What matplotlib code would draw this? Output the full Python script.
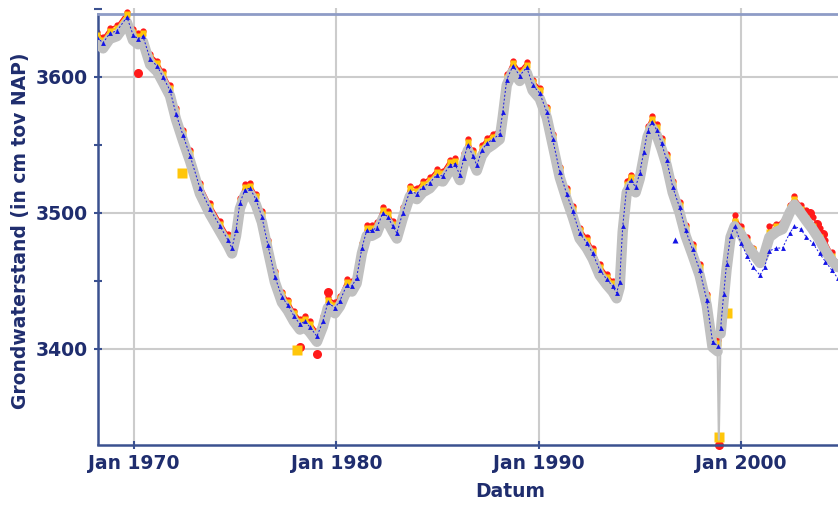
import matplotlib
matplotlib.use("Agg")
import matplotlib.pyplot as plt
import numpy as np

plt.rcParams["font.weight"] = "bold"

# decimal years of the readings (1998.9 = the single low reading)
dates = [1968.17, 1968.47, 1968.8, 1969.16, 1969.65, 1969.95, 1970.2, 1970.44, 1970.8, 1971.14,
         1971.43, 1971.78, 1972.07, 1972.42, 1972.77, 1973.26, 1973.75, 1974.25, 1974.64, 1974.84,
         1975.04, 1975.23, 1975.48, 1975.73, 1976.02, 1976.32, 1976.62, 1976.96, 1977.31, 1977.6,
         1977.9, 1978.2, 1978.44, 1978.69, 1979.04, 1979.33, 1979.58, 1979.93, 1980.17, 1980.52,
         1980.77, 1981.0, 1981.26, 1981.5, 1981.75, 1982.0, 1982.3, 1982.54, 1982.79, 1982.99,
         1983.28, 1983.63, 1983.98, 1984.27, 1984.62, 1984.96, 1985.26, 1985.6, 1985.85, 1986.1,
         1986.3, 1986.5, 1986.74, 1986.94, 1987.19, 1987.43, 1987.73, 1988.07, 1988.22, 1988.42,
         1988.72, 1989.06, 1989.41, 1989.7, 1990.05, 1990.4, 1990.69, 1991.04, 1991.38, 1991.68,
         1992.02, 1992.37, 1992.67, 1993.01, 1993.36, 1993.65, 1993.85, 1994.0, 1994.15, 1994.35,
         1994.54, 1994.79, 1994.99, 1995.19, 1995.38, 1995.58, 1995.83, 1996.07, 1996.32, 1996.62,
         1996.96, 1997.26, 1997.6, 1997.95, 1998.3, 1998.59, 1998.84, 1998.9, 1998.99, 1999.14,
         1999.28, 1999.48, 1999.68, 2000.0, 2000.3, 2000.59, 2000.94, 2001.16, 2001.4, 2001.75,
         2002.05, 2002.4, 2002.64, 2002.94, 2003.23, 2003.53, 2003.88, 2004.17, 2004.47, 2004.77]

gray = [3625, 3621, 3628, 3630, 3640, 3627, 3624, 3626, 3609, 3604,
        3596, 3586, 3569, 3553, 3538, 3514, 3499, 3486, 3476, 3470,
        3483, 3503, 3513, 3514, 3506, 3493, 3472, 3449, 3434, 3428,
        3420, 3414, 3416, 3412, 3405, 3416, 3430, 3426, 3431, 3443,
        3442, 3448, 3470, 3483, 3483, 3485, 3496, 3493, 3486, 3481,
        3496, 3512, 3510, 3515, 3518, 3524, 3523, 3531, 3532, 3524,
        3536, 3546, 3538, 3531, 3542, 3547, 3550, 3554, 3570, 3594,
        3604, 3597, 3603, 3590, 3584, 3570, 3550, 3526, 3510, 3497,
        3481, 3474, 3466, 3454, 3447, 3442, 3437, 3445, 3486, 3515,
        3520, 3515, 3525, 3541, 3556, 3563, 3557, 3547, 3535, 3515,
        3500, 3483, 3469, 3454, 3432, 3401, 3398, 3333, 3411, 3436,
        3458, 3482, 3490, 3484, 3476, 3470, 3463, 3470, 3482, 3486,
        3488, 3500, 3506, 3500, 3494, 3488, 3480, 3472, 3465, 3460]

blue = [3629, 3625, 3632, 3634, 3644, 3631, 3628, 3630, 3613, 3608,
        3600, 3590, 3573, 3557, 3542, 3518, 3503, 3490, 3480, 3474,
        3487, 3507, 3517, 3518, 3510, 3497, 3476, 3453, 3438, 3432,
        3424, 3418, 3420, 3416, 3409, 3420, 3434, 3430, 3435, 3447,
        3446, 3452, 3474, 3487, 3487, 3489, 3500, 3497, 3490, 3485,
        3500, 3516, 3514, 3519, 3522, 3528, 3527, 3535, 3536, 3528,
        3540, 3550, 3542, 3535, 3546, 3551, 3554, 3558, 3574, 3598,
        3608, 3601, 3607, 3594, 3588, 3574, 3554, 3530, 3514, 3501,
        3485, 3478, 3470, 3458, 3451, 3446, 3441, 3449, 3490, 3519,
        3524, 3519, 3529, 3545, 3560, 3567, 3561, 3551, 3539, 3519,
        3504, 3487, 3473, 3458, 3436, 3405, 3402, np.nan, 3415, 3440,
        3462, 3483, 3490, 3478, 3468, 3460, 3454, 3460, 3472, 3474,
        3474, 3485, 3490, 3488, 3482, 3478, 3470, 3464, 3458, 3452]

yellow = [3631, 3627, 3634, 3636, 3646, 3633, 3630, 3632, 3615, 3610,
          3602, 3592, 3575, 3559, 3544, 3520, 3505, 3492, 3482, 3476,
          3489, 3509, 3519, 3520, 3512, 3499, 3478, 3455, 3440, 3434,
          3426, 3420, 3422, 3418, 3411, 3422, 3436, 3432, 3437, 3449,
          3448, 3454, 3476, 3489, 3489, 3491, 3502, 3499, 3492, 3487,
          3502, 3518, 3516, 3521, 3524, 3530, 3529, 3537, 3538, 3530,
          3542, 3552, 3544, 3537, 3548, 3553, 3556, 3560, 3576, 3600,
          3610, 3603, 3609, 3596, 3590, 3576, 3556, 3532, 3516, 3503,
          3487, 3480, 3472, 3460, 3453, 3448, 3443, 3451, 3492, 3521,
          3526, 3521, 3531, 3547, 3562, 3569, 3563, 3553, 3541, 3521,
          3506, 3489, 3475, 3460, 3438, 3407, 3404, np.nan, 3417, 3442,
          3464, 3485, 3494, 3487, 3479, 3473, 3466, 3473, 3486, 3490,
          3491, 3504, 3510, 3503, 3496, 3490, 3482, 3474, 3468, 3462]

red = [3633, 3629, 3636, 3638, 3648, 3635, 3632, 3634, 3617, 3612,
       3604, 3594, 3577, 3561, 3546, 3522, 3507, 3494, 3484, 3478,
       3491, 3511, 3521, 3522, 3514, 3501, 3480, 3457, 3442, 3436,
       3428, 3422, 3424, 3420, 3413, 3424, 3438, 3434, 3439, 3451,
       3450, 3456, 3478, 3491, 3491, 3493, 3504, 3501, 3494, 3489,
       3504, 3520, 3518, 3523, 3526, 3532, 3531, 3539, 3540, 3532,
       3544, 3554, 3546, 3539, 3550, 3555, 3558, 3562, 3578, 3602,
       3612, 3605, 3611, 3598, 3592, 3578, 3558, 3534, 3518, 3505,
       3489, 3482, 3474, 3462, 3455, 3450, 3445, 3453, 3494, 3523,
       3528, 3523, 3533, 3549, 3564, 3571, 3565, 3555, 3543, 3523,
       3508, 3491, 3477, 3462, 3440, 3409, 3406, np.nan, 3419, 3444,
       3466, 3487, 3498, 3490, 3482, 3474, 3468, 3476, 3490, 3492,
       3494, 3506, 3512, 3506, 3502, 3497, 3489, 3480, 3471, 3464]

# single readings away from the rest
red_extra_x = [1970.22, 1978.2, 1979.02, 1979.6, 1998.9, 2003.4, 2003.75, 2004.05]
red_extra_y = [3603, 3401, 3396, 3442, 3329, 3500, 3492, 3484]
yellow_extra_x = [1972.35, 1978.05, 1999.3, 1998.9]
yellow_extra_y = [3529, 3399, 3426, 3335]
blue_extra_x = [1996.72]
blue_extra_y = [3480]

navy = "#1f2d6e"
spine_col = "#3b5190"

fig = plt.figure(figsize=(8.38, 5.08), dpi=100)
ax = fig.add_axes([98 / 838, 63.5 / 508, 740 / 838, 436.9 / 508])

x = np.array(dates)
g = np.array(gray)
ax.plot(x, red, color="#ff1a1a", lw=1.0, marker="o", ms=4.5, mec="none", zorder=2)
ax.plot(red_extra_x, red_extra_y, "o", color="#ff1a1a", ms=6.5, mec="none",
        zorder=2, clip_on=False)
ax.plot(x, yellow, color="#ffc60a", lw=1.5, marker="s", ms=4, mec="none", zorder=3)
ax.plot(yellow_extra_x, yellow_extra_y, "s", color="#ffc60a", ms=6.5, mec="none",
        zorder=3, clip_on=False)
ax.plot(x, g, color="#c0c0c0", lw=1.5, zorder=4)
ax.plot(x, np.ma.masked_where(g < 3380, g), color="#c0c0c0", lw=7.5,
        solid_capstyle="round", solid_joinstyle="round", zorder=4)
ax.plot(x, blue, color="#1414e6", lw=0.7, ls=(0, (2, 2)), marker="^", ms=3.5, mec="none", zorder=5)
ax.plot(blue_extra_x, blue_extra_y, "^", color="#1414e6", ms=5, mec="none", zorder=5)

ax.set_xlim(1968.22, 2004.79)
ax.set_ylim(3329.4, 3651)

ax.set_xticks([1970, 1980, 1990, 2000], ["Jan 1970", "Jan 1980", "Jan 1990", "Jan 2000"])
ax.set_yticks([3400, 3500, 3600])
ax.set_yticks([3450, 3550, 3650], minor=True)
ax.grid(True, color="#cccccc", lw=1.5)
ax.set_axisbelow(True)

ax.tick_params(axis="both", which="both", direction="inout", length=6, width=1.5,
               color=spine_col, labelcolor=navy, labelsize=13.5, pad=4)

ax.spines["right"].set_visible(False)
ax.spines["top"].set_position(("data", 3646.3))
ax.spines["top"].set_color("#8e9cc6")
ax.spines["top"].set_linewidth(2)
ax.spines["left"].set_bounds(3329.4, 3646.3)
for s in ["left", "bottom"]:
    ax.spines[s].set_color(spine_col)
    ax.spines[s].set_linewidth(1.8)

ax.set_ylabel("Grondwaterstand (in cm tov NAP)", fontsize=13.5, fontweight="bold", color=navy)
ax.yaxis.set_label_coords(-0.092, 0.49)
ax.set_xlabel("Datum", fontsize=13.5, fontweight="bold", color=navy)
ax.xaxis.set_label_coords(0.557, -0.085)

fig.savefig("out.png", dpi=100)
